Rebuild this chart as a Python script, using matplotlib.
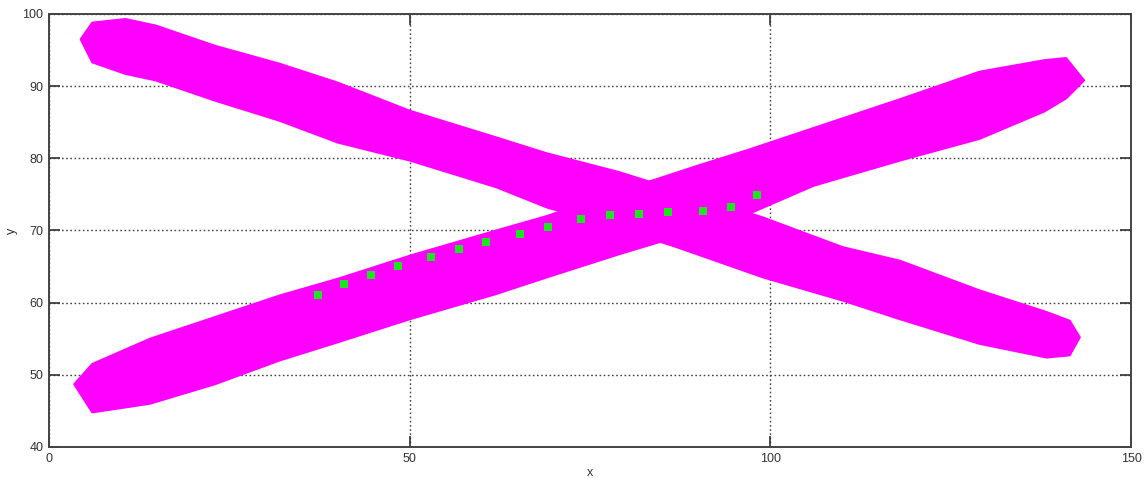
import matplotlib
matplotlib.use("Agg")
import matplotlib.pyplot as plt
import numpy as np

# Rising band: x samples with upper / lower edge
rise_x = [3.5, 6, 14, 23, 32, 40, 50, 62, 69, 79, 90, 97, 106, 118, 129, 138, 141, 143.5]
rise_top = [48.7, 51.5, 55.0, 58.0, 61.0, 63.3, 66.5, 70.0, 72.0, 75.4, 79.0, 81.2, 84.2, 88.2, 92.0, 93.6, 93.9, 90.8]
rise_bot = [48.7, 44.8, 46.0, 48.7, 52.0, 54.5, 57.7, 61.2, 63.5, 66.7, 70.0, 72.3, 76.2, 79.7, 82.7, 86.5, 88.3, 90.8]

# Falling band
fall_x = [4.4, 6, 10.6, 14.8, 23, 32, 40, 50, 62, 69, 79, 87, 99, 110, 118, 129, 138.3, 141.5, 142.9]
fall_top = [96.5, 98.8, 99.3, 98.4, 95.6, 93.1, 90.5, 86.6, 82.9, 80.7, 78.1, 75.6, 71.8, 67.7, 65.8, 61.7, 58.7, 57.5, 55.2]
fall_bot = [96.5, 93.3, 91.7, 90.8, 88.0, 85.2, 82.2, 79.7, 76.0, 73.2, 70.3, 67.7, 63.5, 60.3, 57.7, 54.3, 52.4, 52.7, 55.2]

# Green path points
path_x = [37.3, 40.9, 44.6, 48.4, 52.9, 56.8, 60.6, 65.3, 69.2, 73.8, 77.8, 81.8, 85.8, 90.6, 94.5, 98.1]
path_y = [61.1, 62.6, 63.9, 65.1, 66.3, 67.4, 68.4, 69.5, 70.5, 71.6, 72.1, 72.3, 72.5, 72.7, 73.3, 74.9]

plt.rcParams["font.family"] = ["Liberation Sans", "DejaVu Sans"]

fig = plt.figure(figsize=(11.48, 4.79), dpi=100)
ax = fig.add_axes([49 / 1148, 32 / 479, 1082 / 1148, 433 / 479])

for bx, btop, bbot in [(rise_x, rise_top, rise_bot), (fall_x, fall_top, fall_bot)]:
    poly_x = list(bx) + list(bx[::-1])
    poly_y = list(btop) + list(bbot[::-1])
    ax.fill(poly_x, poly_y, facecolor="#ff00ff", edgecolor="#ff00ff",
            linewidth=1.5, joinstyle="round", zorder=2)

ax.plot(path_x, path_y, linestyle="none", marker="s", markersize=5.2,
        color="#1ee61e", markeredgewidth=0, zorder=3)

ax.set_xlim(0, 150)
ax.set_ylim(40, 100)
ax.set_xticks([0, 50, 100, 150])
ax.set_yticks([40, 50, 60, 70, 80, 90, 100])
ax.grid(True, linestyle=(0, (1.2, 1.8)), color="#444444", linewidth=1.0, zorder=1)
ax.set_axisbelow(True)
ax.tick_params(direction="in", length=8, width=1.2, colors="#333333",
               top=True, right=True, labelsize=9, pad=4)
for s in ax.spines.values():
    s.set_color("#444444")
    s.set_linewidth(1.4)

ax.set_xlabel("x", fontsize=9, color="#333333", labelpad=2)
ax.set_ylabel("y", fontsize=9, color="#333333", labelpad=3)

fig.savefig("out.png", dpi=100)
